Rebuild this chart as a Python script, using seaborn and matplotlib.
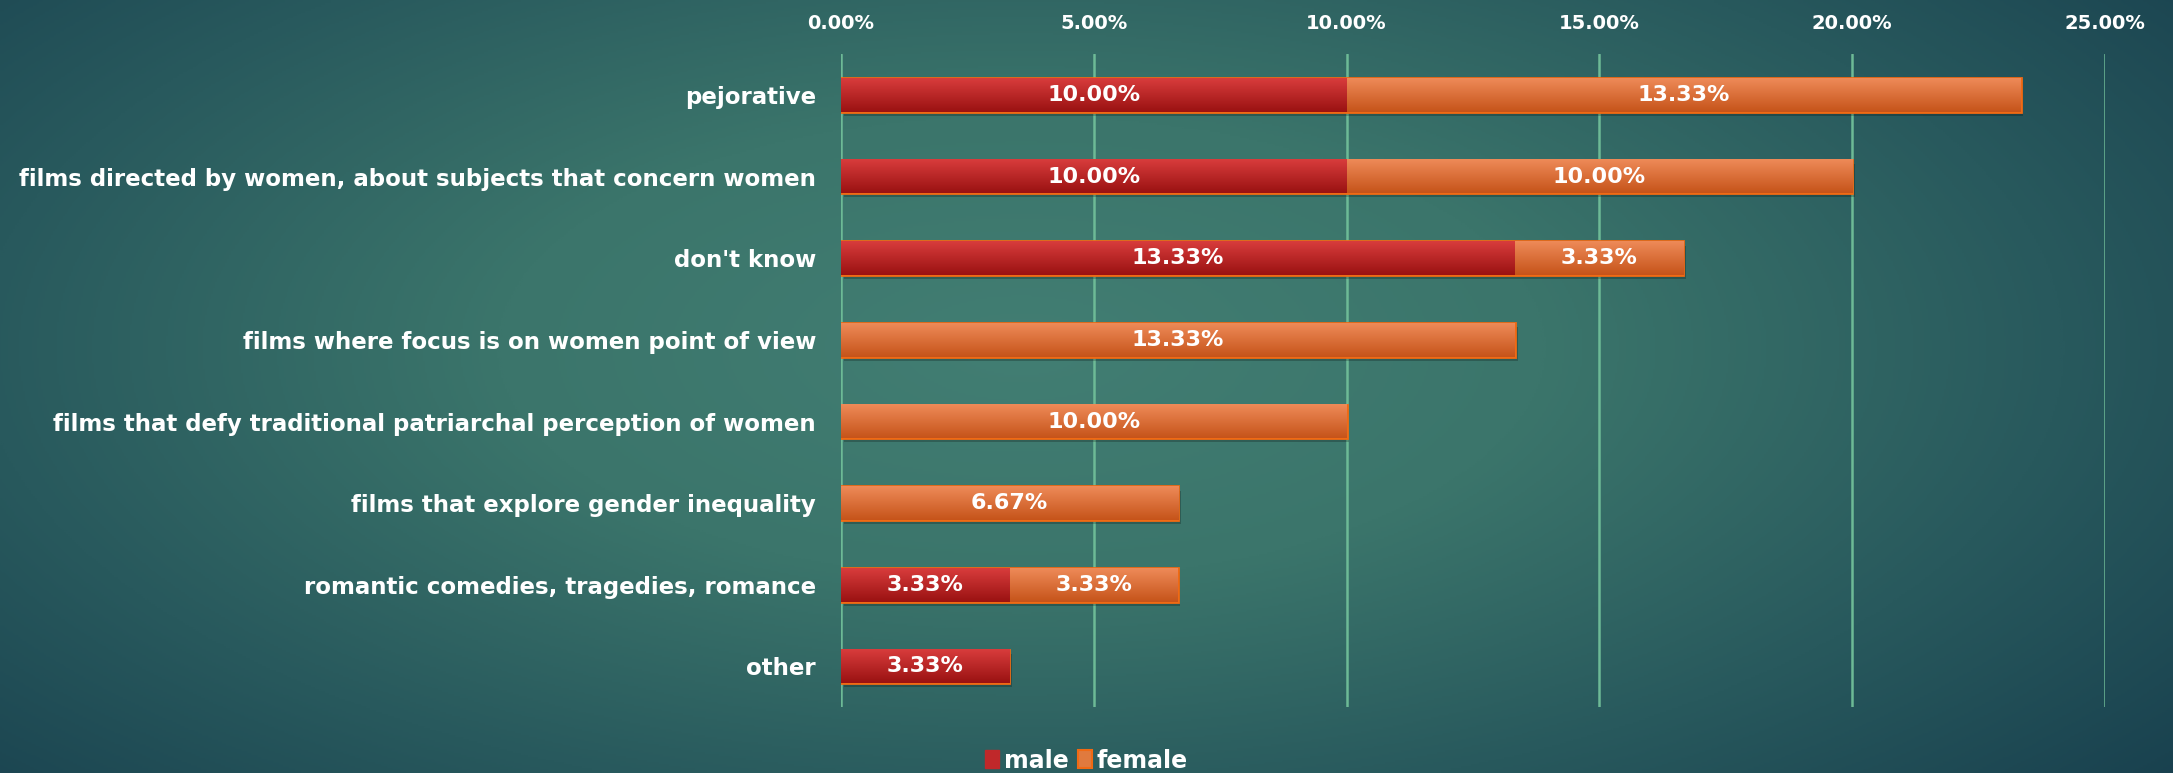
import matplotlib
matplotlib.use("Agg")
import matplotlib.pyplot as plt
import matplotlib.patches as mpatches
import matplotlib.patheffects as pe
from matplotlib.colors import LinearSegmentedColormap
import numpy as np
import pandas as pd
import seaborn as sns

categories = [
    "pejorative",
    "films directed by women, about subjects that concern women",
    "don't know",
    "films where focus is on women point of view",
    "films that defy traditional patriarchal perception of women",
    "films that explore gender inequality",
    "romantic comedies, tragedies, romance",
    "other",
]
male = [10.00, 10.00, 13.33, 0.0, 0.0, 0.0, 3.33, 3.33]
female = [13.33, 10.00, 3.33, 13.33, 10.00, 6.67, 3.33, 0.0]
x_ticks = [0, 5, 10, 15, 20, 25]

df = pd.DataFrame({"category": categories, "male": male, "female": female})
df["total"] = df["male"] + df["female"]

sns.set_theme(style="white")
plt.rcParams["font.family"] = ["DejaVu Sans"]
plt.rcParams["font.weight"] = "bold"

fig = plt.figure(figsize=(21.73, 7.73), dpi=100)

# radial teal background, lighter toward the upper middle
bg = fig.add_axes([0, 0, 1, 1], zorder=-10)
yy, xx = np.mgrid[0:1:400j, 0:1:1100j]
r = np.sqrt(((xx - 0.47) / 0.8) ** 2 + ((yy - 0.45) / 1.0) ** 2)
bg_cmap = LinearSegmentedColormap.from_list("bg", ["#427e73", "#3b756b", "#28595d", "#173e4d"])
bg.imshow(r, cmap=bg_cmap, aspect="auto", extent=[0, 1, 0, 1], vmin=0, vmax=0.9)
bg.set_axis_off()

ax = fig.add_axes([0.387, 0.085, 0.5817, 0.845])
ax.set_facecolor("none")

# total (female) bars first, then male drawn over them
sns.barplot(data=df, y="category", x="total", orient="h", color="#e07a3e",
            edgecolor="#f06a14", linewidth=2, width=0.41, ax=ax, zorder=3)
n_female = len(ax.patches)
sns.barplot(data=df, y="category", x="male", orient="h", color="#c0282a",
            linewidth=0, width=0.41, ax=ax, zorder=4)

red_grad = LinearSegmentedColormap.from_list("red", ["#9a1212", "#d83c3c"])
orange_grad = LinearSegmentedColormap.from_list("orange", ["#c6541a", "#ee8a58"])
grad = np.linspace(0, 1, 64).reshape(-1, 1)
for i, p in enumerate(ax.patches):
    x0, y0 = p.get_x(), p.get_y()
    w, h = p.get_width(), p.get_height()
    if w <= 0:
        continue
    cm = orange_grad if i < n_female else red_grad
    ax.imshow(grad[::-1], cmap=cm, aspect="auto", origin="upper",
              extent=[x0, x0 + w, y0 + h, y0], zorder=p.get_zorder() + 0.1,
              clip_path=p, clip_on=True)
    p.set_facecolor("none")
    if i < n_female:
        # soft drop shadow under the full bar
        p.set_path_effects([pe.SimplePatchShadow(offset=(2, -3), shadow_rgbFace="black", alpha=0.22),
                            pe.Normal()])

for i, row in df.iterrows():
    if row["male"] > 0:
        ax.text(row["male"] / 2, i, f"{row['male']:.2f}%", ha="center", va="center",
                color="white", fontsize=16, fontweight="bold", zorder=6)
    if row["female"] > 0:
        ax.text(row["male"] + row["female"] / 2, i, f"{row['female']:.2f}%", ha="center",
                va="center", color="white", fontsize=16, fontweight="bold", zorder=6)

ax.set_xlim(0, 25)
ax.set_ylim(7.5, -0.5)
ax.set_xticks(x_ticks)
ax.set_xticklabels([f"{t:.2f}%" for t in x_ticks])
ax.xaxis.tick_top()
ax.grid(axis="x", color="#6dba96", linewidth=1.8, zorder=0)
ax.grid(axis="y", visible=False)
for s in ax.spines.values():
    s.set_visible(False)
ax.tick_params(axis="x", length=0, pad=15, labelsize=14, labelcolor="white")
ax.tick_params(axis="y", length=0, pad=18, labelsize=16.5, labelcolor="white")
for lab in ax.get_xticklabels() + ax.get_yticklabels():
    lab.set_fontweight("bold")
ax.set_xlabel("")
ax.set_ylabel("")

handles = [mpatches.Patch(facecolor="#c0282a", edgecolor="#c0282a", label="male"),
           mpatches.Patch(facecolor="#e07a3e", edgecolor="#f06a14", linewidth=1.5, label="female")]
fig.legend(handles=handles, loc="lower center", bbox_to_anchor=(0.5, -0.027), ncol=2,
           frameon=False, handlelength=0.6, handleheight=0.8,
           handletextpad=0.2, columnspacing=0.4, labelcolor="white",
           prop={"weight": "bold", "size": 17})

fig.savefig("out.png", dpi=100)
